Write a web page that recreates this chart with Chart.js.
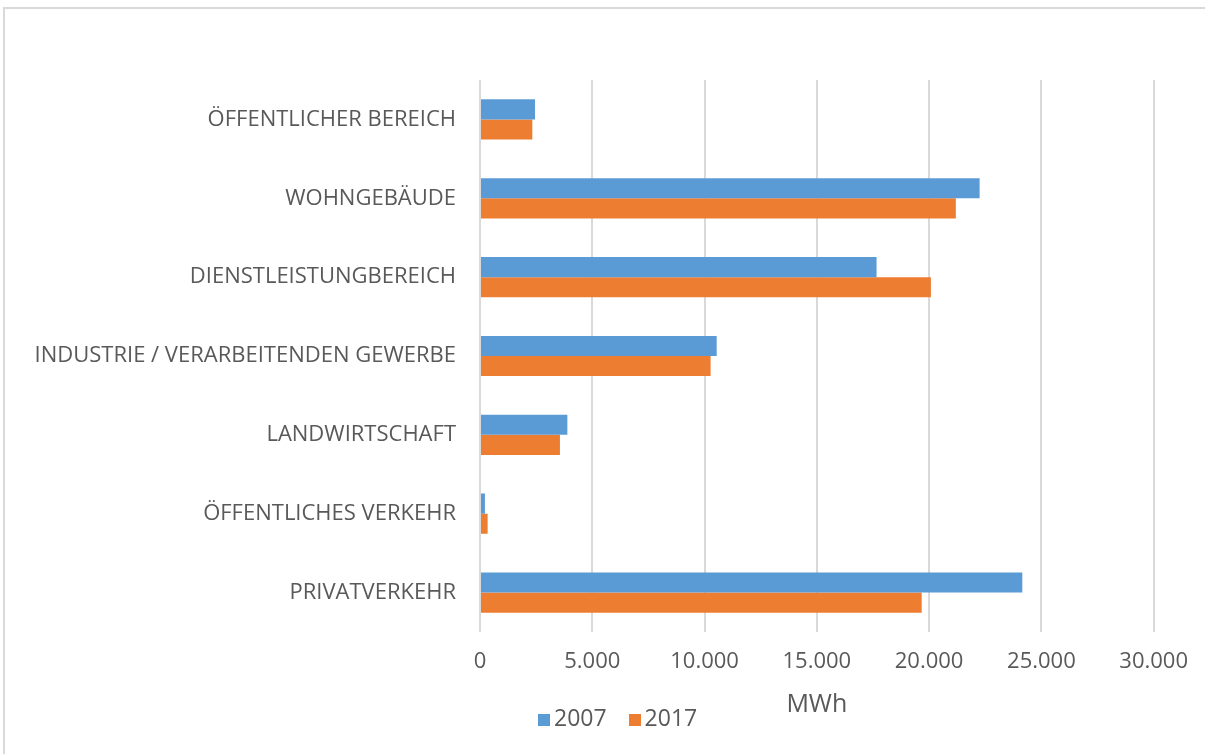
<!DOCTYPE html>
<html>
<head>
<meta charset="utf-8">
<script src="https://cdn.jsdelivr.net/npm/chart.js@4"></script>
<style>
  body { margin: 0; background: #fff; font-family: "Open Sans", sans-serif; }
  #wrap { position: relative; width: 1205px; height: 754px; }
  #frame { position: absolute; left: 3px; top: 7px; width: 1210px; height: 760px; border: 2px solid #d9d9d9; box-sizing: border-box; }
  #legend { position: absolute; left: 538px; top: 702px; font-size: 23px; line-height: 30px; color: #595959; }
  #legend span.box { display: inline-block; width: 12px; height: 12px; margin-right: 4px; }
  #legend span.item { margin-right: 22px; }
</style>
</head>
<body>
<div id="wrap">
  <div id="frame"></div>
  <canvas id="chart" width="1205" height="754"></canvas>
  <div id="legend"></div>
</div>
<script>
// categories and values (MWh)
var categories = [
  'ÖFFENTLICHER BEREICH',
  'WOHNGEBÄUDE',
  'DIENSTLEISTUNGBEREICH',
  'INDUSTRIE / VERARBEITENDEN GEWERBE',
  'LANDWIRTSCHAFT',
  'ÖFFENTLICHES VERKEHR',
  'PRIVATVERKEHR'
];
var values2007 = [2450, 22250, 17660, 10540, 3890, 220, 24150];
var values2017 = [2330, 21190, 20080, 10270, 3560, 340, 19670];
var seriesNames = ['2007', '2017'];
var colors = ['#5B9BD5', '#ED7D31'];

var ctx = document.getElementById('chart');
var chart = new Chart(ctx, {
  type: 'bar',
  data: {
    labels: categories,
    datasets: [
      {
        label: seriesNames[0],
        data: values2007,
        backgroundColor: colors[0],
        borderWidth: 0,
        categoryPercentage: 0.51,
        barPercentage: 1
      },
      {
        label: seriesNames[1],
        data: values2017,
        backgroundColor: colors[1],
        borderWidth: 0,
        categoryPercentage: 0.51,
        barPercentage: 1
      }
    ]
  },
  options: {
    indexAxis: 'y',
    responsive: false,
    animation: false,
    layout: { padding: { top: 80, right: 50, left: 0, bottom: 0 } },
    plugins: {
      legend: { display: false },
      tooltip: { enabled: false }
    },
    scales: {
      x: {
        min: 0,
        max: 30000,
        ticks: {
          stepSize: 5000,
          padding: 17,
          color: '#595959',
          font: { family: 'Open Sans', size: 22 },
          callback: function (v) {
            return v.toLocaleString('de-DE');
          }
        },
        grid: { color: '#d9d9d9', lineWidth: 2, drawTicks: false },
        border: { display: false },
        title: {
          display: true,
          text: 'MWh',
          color: '#595959',
          font: { family: 'Open Sans', size: 25 },
          padding: { top: 0, bottom: 34 }
        },
        afterFit: function (scale) { scale.height = 122; }
      },
      y: {
        ticks: {
          padding: 24,
          color: '#595959',
          font: { family: 'Open Sans', size: 22 }
        },
        grid: { display: false, drawTicks: false },
        border: { display: false },
        afterFit: function (scale) { scale.width = 480; }
      }
    }
  }
});

// legend
var legend = document.getElementById('legend');
seriesNames.forEach(function (name, i) {
  var item = document.createElement('span');
  item.className = 'item';
  item.innerHTML = '<span class="box" style="background:' + colors[i] + '"></span>' + name;
  legend.appendChild(item);
});
</script>
</body>
</html>
